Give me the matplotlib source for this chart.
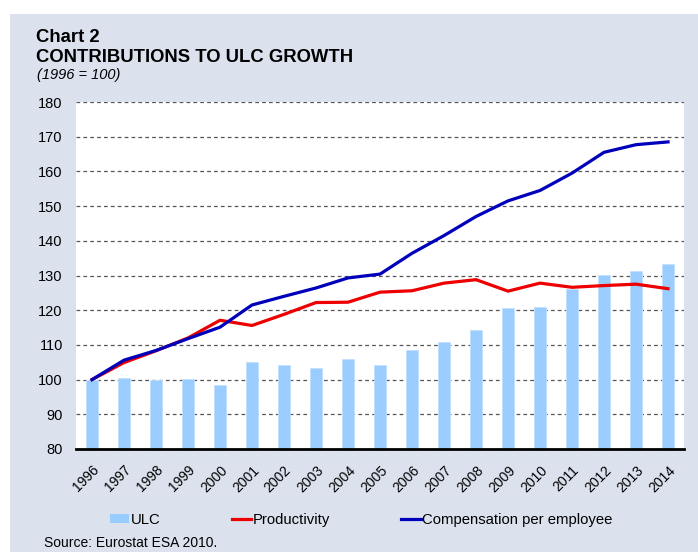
import numpy as np
import matplotlib.pyplot as plt
import matplotlib.transforms as mtransforms
from matplotlib.patches import Rectangle, Patch
from matplotlib.lines import Line2D

plt.rcParams['font.family'] = ['Liberation Sans', 'DejaVu Sans']

years = [str(y) for y in range(1996, 2015)]
ulc = [100, 100.5, 100, 100.2, 98.4, 105.0, 104.3, 103.4, 105.8, 104.2,
       108.6, 110.7, 114.2, 120.6, 120.9, 126.1, 130.1, 131.4, 133.4]
productivity = [100, 104.9, 108.3, 112.0, 117.1, 115.6, 118.8, 122.2, 122.3, 125.2,
                125.6, 127.8, 128.8, 125.5, 127.8, 126.6, 127.1, 127.5, 126.2]
compensation = [100, 105.6, 108.4, 111.8, 115.1, 121.5, 124.0, 126.4, 129.3, 130.4,
                136.4, 141.5, 147.0, 151.5, 154.5, 159.5, 165.5, 167.7, 168.5]

W, H = 698, 552
fig = plt.figure(figsize=(W / 100, H / 100), dpi=100)
fig.patch.set_facecolor('white')
fig.patches.append(Rectangle((10 / W, 0), 1 - 10 / W, 1 - 14 / H,
                             transform=fig.transFigure, facecolor='#dbe2ee',
                             edgecolor='none', zorder=-10))

ax = fig.add_axes([76 / W, 1 - 449 / H, (684 - 76) / W, (449 - 102) / H])
ax.set_facecolor('white')
x = np.arange(len(years))

ax.bar(x, np.array(ulc) - 80, bottom=80, width=0.4, color='#99ccff',
       edgecolor='#c4e0ff', linewidth=0.6, zorder=2)
ax.plot(x, productivity, color='#ee0000', lw=2.3, zorder=3)
ax.plot(x, compensation, color='#0000bb', lw=2.3, zorder=4)

ax.set_xlim(-0.5, len(years) - 0.5)
ax.set_ylim(80, 180)
ax.set_yticks(range(80, 181, 10))
for yv in range(90, 181, 10):
    ax.axhline(yv, color='#555555', lw=0.9, ls=(0, (3, 2.5)), zorder=1)

ax.set_xticks(x)
ax.set_xticklabels(years, rotation=45, ha='right', va='top',
                   rotation_mode='anchor', fontsize=10)
shift = mtransforms.ScaledTranslation(-4 / 100, 0, fig.dpi_scale_trans)
for lab in ax.get_xticklabels():
    lab.set_transform(lab.get_transform() + shift)
ax.tick_params(axis='x', length=0, pad=10)
ax.tick_params(axis='y', length=0, pad=9.5, labelsize=10.5)
for s in ['left', 'right', 'top']:
    ax.spines[s].set_visible(False)
ax.spines['bottom'].set_linewidth(2)
ax.spines['bottom'].set_color('black')
ax.spines['bottom'].set_zorder(5)

fig.text(36 / W, 1 - 42 / H, 'Chart 2', fontsize=13.3, fontweight='bold', va='baseline')
fig.text(36 / W, 1 - 62 / H, 'CONTRIBUTIONS TO ULC GROWTH', fontsize=13.3,
         fontweight='bold', va='baseline')
fig.text(37 / W, 1 - 79 / H, '(1996 = 100)', fontsize=10.5, style='italic', va='baseline')
fig.text(44 / W, 1 - 547 / H, 'Source: Eurostat ESA 2010.', fontsize=10, va='baseline')

handles = [Patch(facecolor='#99ccff', edgecolor='none'),
           Line2D([], [], color='#ee0000', lw=2.3),
           Line2D([], [], color='#0000bb', lw=2.3)]
fig.legend(handles, ['ULC', 'Productivity', 'Compensation per employee'],
           loc='center left', bbox_to_anchor=(110 / W, 1 - 520 / H), ncol=3,
           frameon=False, fontsize=10.7, handlelength=1.3, handleheight=0.6,
           handletextpad=0.1, columnspacing=4.8, borderpad=0, borderaxespad=0)

fig.savefig('out.png', dpi=100)
